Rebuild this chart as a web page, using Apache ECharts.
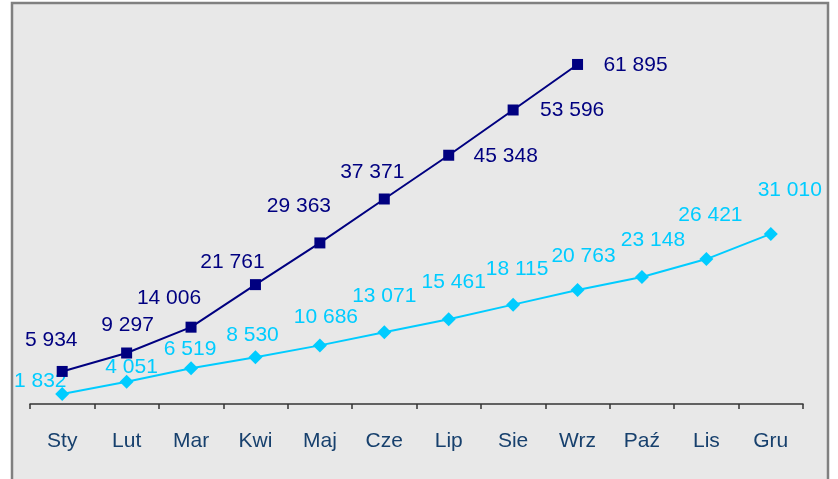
<!DOCTYPE html>
<html>
<head>
<meta charset="utf-8">
<script src="https://cdn.jsdelivr.net/npm/echarts@6/dist/echarts.min.js"></script>
<style>
  html, body { margin: 0; padding: 0; background: #ffffff; }
  #chart { width: 838px; height: 479px; }
</style>
</head>
<body>
<div id="chart"></div>
<script>
// Month categories
const months = ['Sty', 'Lut', 'Mar', 'Kwi', 'Maj', 'Cze', 'Lip', 'Sie', 'Wrz', 'Paź', 'Lis', 'Gru'];

// Cumulative totals, current year (through September)
const seriesDark = [5934, 9297, 14006, 21761, 29363, 37371, 45348, 53596, 61895];

// Cumulative totals, previous year
const seriesLight = [1832, 4051, 6519, 8530, 10686, 13071, 15461, 18115, 20763, 23148, 26421, 31010];

// Label offsets (centre of label relative to the marker), per point
const darkLabelOffsets = [[-11, -31], [1, -28], [-22, -29], [-23, -22], [-21, -37], [-12, -27], [57, 1], [59, 0], [58, 1]];
const lightLabelOffsets = [[-22, -13], [5, -15], [-1, -19], [-3, -22], [6, -28], [0, -36], [5, -37], [4, -35], [6, -34], [11, -37], [4, -44], [19, -44]];

const FONT = '"Liberation Sans", Arial, sans-serif';
const fmt = v => String(v).replace(/\B(?=(\d{3})+(?!\d))/g, ' ');

function buildPoints(values, offsets, color) {
  return values.map((v, i) => ({
    value: v,
    label: {
      show: true,
      position: 'inside',
      align: 'center',
      verticalAlign: 'middle',
      offset: offsets[i],
      color: color,
      fontSize: 21,
      fontFamily: FONT,
      formatter: p => fmt(p.value)
    }
  }));
}

const chart = echarts.init(document.getElementById('chart'), null, { renderer: 'canvas' });

chart.setOption({
  animation: false,
  backgroundColor: '#ffffff',
  graphic: [{
    type: 'rect',
    z: -100,
    shape: { x: 12, y: 3, width: 816, height: 520 },
    style: { fill: '#e8e8e8', stroke: '#808080', lineWidth: 2.5 }
  }],
  grid: { left: 30, right: 35, top: 20, bottom: 75, containLabel: false },
  xAxis: {
    type: 'category',
    data: months,
    boundaryGap: true,
    axisLine: { show: true, lineStyle: { color: '#333333', width: 1.5 } },
    axisTick: { show: true, alignWithLabel: false, length: 5, inside: false, lineStyle: { color: '#333333', width: 1.5 } },
    axisLabel: { color: '#17406d', fontSize: 21, fontFamily: FONT, margin: 27, interval: 0 },
    splitLine: { show: false }
  },
  yAxis: {
    type: 'value',
    min: 0,
    max: 70000,
    show: false,
    splitLine: { show: false }
  },
  series: [
    {
      name: 'dark',
      type: 'line',
      data: buildPoints(seriesDark, darkLabelOffsets, '#000080'),
      symbol: 'rect',
      symbolSize: 11,
      lineStyle: { color: '#000080', width: 2 },
      itemStyle: { color: '#000080' },
      z: 3
    },
    {
      name: 'light',
      type: 'line',
      data: buildPoints(seriesLight, lightLabelOffsets, '#00ccff'),
      symbol: 'diamond',
      symbolSize: 14,
      lineStyle: { color: '#00ccff', width: 2 },
      itemStyle: { color: '#00ccff' },
      z: 2
    }
  ]
});
</script>
</body>
</html>
